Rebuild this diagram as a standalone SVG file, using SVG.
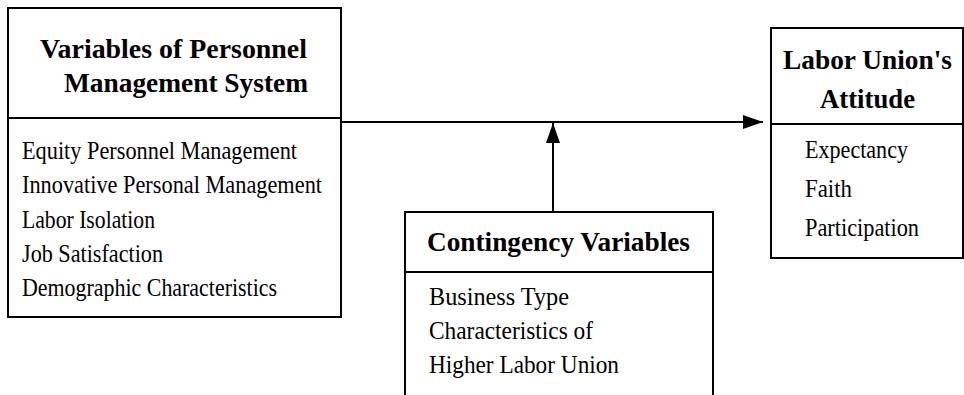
<svg xmlns="http://www.w3.org/2000/svg" width="964" height="395" viewBox="0 0 964 395">
  <style>
    .box { fill: #fff; stroke: #000; stroke-width: 2; }
    .rule { stroke: #000; stroke-width: 2; fill: none; }
    .head { font-family: "Liberation Serif", "Times New Roman", serif; font-weight: bold; font-size: 27px; fill: #000; }
    .item { font-family: "Liberation Serif", "Times New Roman", serif; font-size: 26px; fill: #000; }
    .link { stroke: #000; stroke-width: 2; fill: none; }
  </style>
  <defs>
    <marker id="arrowBig" viewBox="0 0 20 14" refX="20" refY="7" markerWidth="20" markerHeight="14" markerUnits="userSpaceOnUse" orient="auto">
      <path d="M0,0 L20,7 L0,14 Z" fill="#000"/>
    </marker>
  </defs>

  <!-- connectors -->
  <g id="connectors">
    <line class="link" x1="341" y1="122" x2="763" y2="122" marker-end="url(#arrowBig)"/>
    <line class="link" x1="553" y1="212" x2="553" y2="123" marker-end="url(#arrowBig)"/>
  </g>

  <!-- personnel management variables -->
  <g id="personnel">
    <rect class="box" x="8" y="8" width="333" height="309"/>
    <line class="rule" x1="8" y1="118" x2="341" y2="118"/>
    <text class="head" x="40" y="58" textLength="267" lengthAdjust="spacingAndGlyphs">Variables of Personnel</text>
    <text class="head" x="64" y="92" textLength="244" lengthAdjust="spacingAndGlyphs">Management System</text>
    <text class="item" x="22" y="159" textLength="275" lengthAdjust="spacingAndGlyphs">Equity Personnel Management</text>
    <text class="item" x="22" y="193" textLength="300" lengthAdjust="spacingAndGlyphs">Innovative Personal Management</text>
    <text class="item" x="22" y="228" textLength="133" lengthAdjust="spacingAndGlyphs">Labor Isolation</text>
    <text class="item" x="22" y="262" textLength="141" lengthAdjust="spacingAndGlyphs">Job Satisfaction</text>
    <text class="item" x="22" y="296" textLength="255" lengthAdjust="spacingAndGlyphs">Demographic Characteristics</text>
  </g>

  <!-- contingency variables -->
  <g id="contingency">
    <rect class="box" x="405" y="212" width="308" height="200"/>
    <line class="rule" x1="405" y1="272" x2="713" y2="272"/>
    <text class="head" x="427" y="251" textLength="263" lengthAdjust="spacingAndGlyphs">Contingency Variables</text>
    <text class="item" x="429" y="305" textLength="140" lengthAdjust="spacingAndGlyphs">Business Type</text>
    <text class="item" x="429" y="339" textLength="164" lengthAdjust="spacingAndGlyphs">Characteristics of</text>
    <text class="item" x="429" y="373" textLength="190" lengthAdjust="spacingAndGlyphs">Higher Labor Union</text>
  </g>

  <!-- labor union attitude -->
  <g id="attitude">
    <rect class="box" x="771" y="28" width="192" height="230"/>
    <line class="rule" x1="771" y1="124" x2="963" y2="124"/>
    <text class="head" x="783" y="69" textLength="169" lengthAdjust="spacingAndGlyphs">Labor Union's</text>
    <text class="head" x="820" y="108" textLength="95" lengthAdjust="spacingAndGlyphs">Attitude</text>
    <text class="item" x="805" y="158" textLength="103" lengthAdjust="spacingAndGlyphs">Expectancy</text>
    <text class="item" x="805" y="197" textLength="47" lengthAdjust="spacingAndGlyphs">Faith</text>
    <text class="item" x="805" y="236" textLength="114" lengthAdjust="spacingAndGlyphs">Participation</text>
  </g>
</svg>
